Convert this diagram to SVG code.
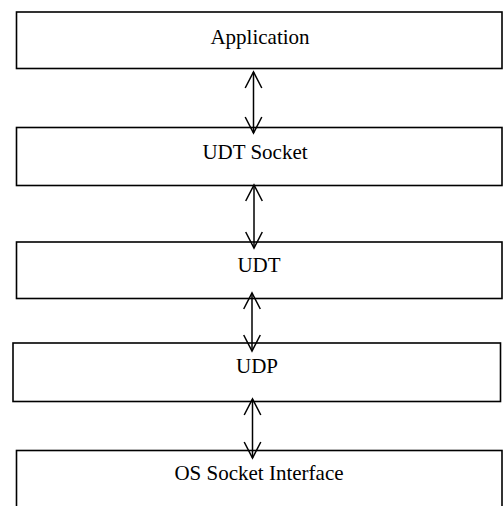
<svg xmlns="http://www.w3.org/2000/svg" width="503" height="506" viewBox="0 0 503 506">
  <style>
    .box { fill: #ffffff; stroke: #000000; stroke-width: 1.6; }
    .lbl { font-family: "Liberation Serif", "Times New Roman", serif; font-size: 21px; fill: #000000; text-anchor: middle; }
    .conn { stroke: #000000; stroke-width: 1.5; fill: none; marker-start: url(#head); marker-end: url(#head); }
  </style>
  <defs>
    <marker id="head" markerUnits="userSpaceOnUse" markerWidth="20" markerHeight="20" viewBox="-18 -10 20 20" refX="0" refY="0" orient="auto-start-reverse" overflow="visible">
      <path d="M -16 -8.3 L 0 0 L -16 8.3" fill="none" stroke="#000000" stroke-width="1.5"/>
    </marker>
  </defs>
  <rect width="503" height="506" fill="#ffffff"/>
  <g id="node-application">
    <rect class="box" x="16.5" y="12" width="485.5" height="56.5"/>
    <text class="lbl" x="260" y="44">Application</text>
  </g>
  <g id="node-udt-socket">
    <rect class="box" x="16.5" y="127.5" width="485.5" height="58"/>
    <text class="lbl" x="255" y="159">UDT Socket</text>
  </g>
  <g id="node-udt">
    <rect class="box" x="16.5" y="242" width="485.5" height="56.5"/>
    <text class="lbl" x="259" y="272">UDT</text>
  </g>
  <g id="node-udp">
    <rect class="box" x="13" y="343" width="487.5" height="58.5"/>
    <text class="lbl" x="257" y="373">UDP</text>
  </g>
  <g id="node-os-socket">
    <rect class="box" x="16.5" y="450.5" width="485.5" height="62"/>
    <text class="lbl" x="259" y="480">OS Socket Interface</text>
  </g>
  <g id="connectors">
    <line class="conn" x1="253.5" y1="72" x2="253.5" y2="133"/>
    <line class="conn" x1="254" y1="185" x2="254" y2="248"/>
    <line class="conn" x1="252" y1="293" x2="252" y2="351"/>
    <line class="conn" x1="252.5" y1="399" x2="252.5" y2="458"/>
  </g>
</svg>
